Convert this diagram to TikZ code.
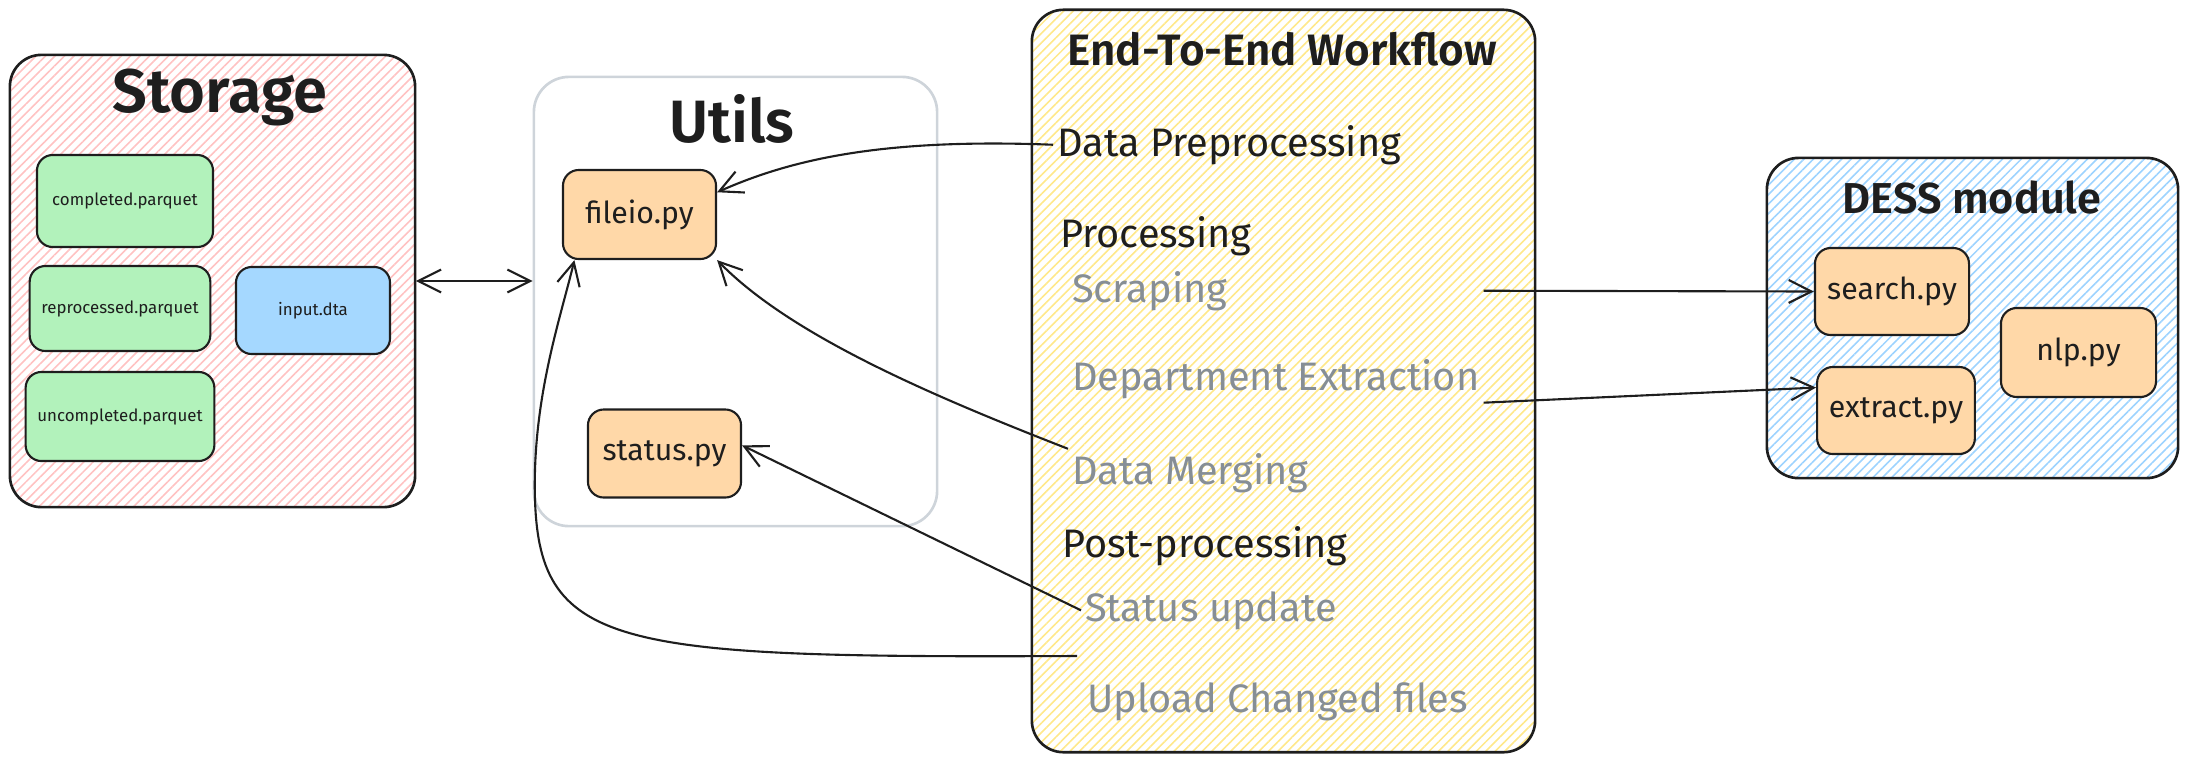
\documentclass[tikz,border=0pt]{standalone}
\usepackage{fontspec}
\setmainfont{Fira Sans}
\newfontfamily\headfont{Fira Sans SemiBold}
\usetikzlibrary{arrows.meta,patterns.meta}
\definecolor{ink}{HTML}{1E1E1E}
\definecolor{muted}{HTML}{868E96}
\definecolor{pinkhatch}{HTML}{FFC2C2}
\definecolor{yellowhatch}{HTML}{FFE88A}
\definecolor{bluehatch}{HTML}{9DD3FF}
\definecolor{greenfill}{HTML}{B2F2BB}
\definecolor{bluefill}{HTML}{A5D8FF}
\definecolor{orangefill}{HTML}{FFD8A8}
\definecolor{frame}{HTML}{CED4DA}

\begin{document}
\begin{tikzpicture}[x=0.01cm,y=-0.01cm,
      >={Straight Barb[length=6.5pt,width=6.5pt]},
      group/.style={draw=ink,line width=0.75pt,rounded corners=9pt,inner sep=0pt},
      hatch/.style={pattern={Lines[angle=45,distance=1.9pt,line width=0.45pt]},pattern color=#1},
      file/.style={draw=ink,line width=0.6pt,rounded corners=4.5pt,fill=orangefill,
        minimum width=1.54cm,minimum height=0.88cm,font=\fontsize{8.6}{10}\selectfont},
      data/.style={file,font=\fontsize{4.8}{6}\selectfont},
      title/.style={anchor=base,inner sep=0pt},
      item/.style={anchor=base west,inner sep=1pt,font=\fontsize{11.3}{13}\selectfont},
      link/.style={draw=ink,line width=0.6pt}]
      \tikzstyle{every node}=[text=ink]
      \useasboundingbox (0,0) rectangle (2187,763);

      \node[group,hatch=pinkhatch,minimum width=4.05cm,minimum height=4.52cm] (storage) at (212.5,281) {};
      \node[group,draw=frame,rounded corners=10pt,minimum width=4.03cm,minimum height=4.49cm] (utils) at (735.5,301.5) {};
      \node[group,hatch=yellowhatch,minimum width=5.03cm,minimum height=7.42cm] (flow) at (1283.5,381) {};
      \node[group,hatch=bluehatch,minimum width=4.11cm,minimum height=3.20cm] (dess) at (1972.5,318) {};

      \node[title,font=\headfont\fontsize{17.5}{20}\selectfont] (storagetitle) at (220,112) {Storage};
      \node[title,font=\headfont\fontsize{17}{20}\selectfont] (utilstitle) at (732,142) {Utils};
      \node[title,anchor=base west,font=\headfont\fontsize{12.5}{15}\selectfont] (flowtitle) at (1067,65) {End-To-End Workflow};
      \node[title,font=\headfont\fontsize{12.3}{15}\selectfont] (desstitle) at (1972,213) {DESS module};

      \node[data,fill=greenfill,minimum width=1.76cm,minimum height=0.92cm] (completed) at (125,201) {completed.parquet};
      \node[data,fill=greenfill,minimum width=1.68cm,minimum height=0.85cm] (reprocessed) at (120,308.5) {reprocessed.parquet};
      \node[data,fill=greenfill,minimum width=1.70cm,minimum height=0.89cm] (uncompleted) at (120,416.5) {uncompleted.parquet};
      \node[data,fill=bluefill,minimum height=0.87cm] (input) at (313,310.5) {input.dta};

      \node[file,minimum width=1.53cm,minimum height=0.89cm] (fileio) at (639.5,214.5) {fileio.py};
      \node[file,minimum width=1.53cm] (status) at (664.5,453.5) {status.py};

      \node[file,minimum height=0.87cm] (search) at (1892,291.5) {search.py};
      \node[file,minimum height=0.87cm] (extract) at (1896,410.5) {extract.py};
      \node[file,minimum width=1.55cm,minimum height=0.89cm] (nlp) at (2078.5,352.5) {nlp.py};

      \node[item] (prep) at (1053,156) {Data Preprocessing};
      \node[item] (proc) at (1056,247) {Processing};
      \node[item,text=muted] (scrap) at (1068,302) {Scraping};
      \node[item,text=muted] (dept) at (1068,390) {Department Extraction};
      \node[item,text=muted] (merge) at (1068,484) {Data Merging};
      \node[item] (post) at (1058,557) {Post-processing};
      \node[item,text=muted] (statusup) at (1081,621) {Status update};
      \node[item,text=muted] (upload) at (1083,712) {Upload Changed files};
      \coordinate (uploadstart) at (1077,656);

      \draw[link,<->] (storage.east) -- (storage.east -| utils.west);
      \draw[link,->] (prep.west) .. controls (880,138) and (790,160) .. (fileio.16);
      \draw[link,->] (merge.north west) .. controls (930,395) and (790,335) .. (fileio.south east);
      \draw[link,->] (statusup.west) -- (status.6);
      \draw[link,->] (uploadstart) .. controls (620,658) and (540,650) .. (535,500)
        .. controls (532,400) and (560,320) .. (fileio.215);
      \draw[link,->] (scrap.east -| dept.east) -- (search.west);
      \draw[link,->] (dept.south east) -- (extract.164);
      \end{tikzpicture}
\end{document}
